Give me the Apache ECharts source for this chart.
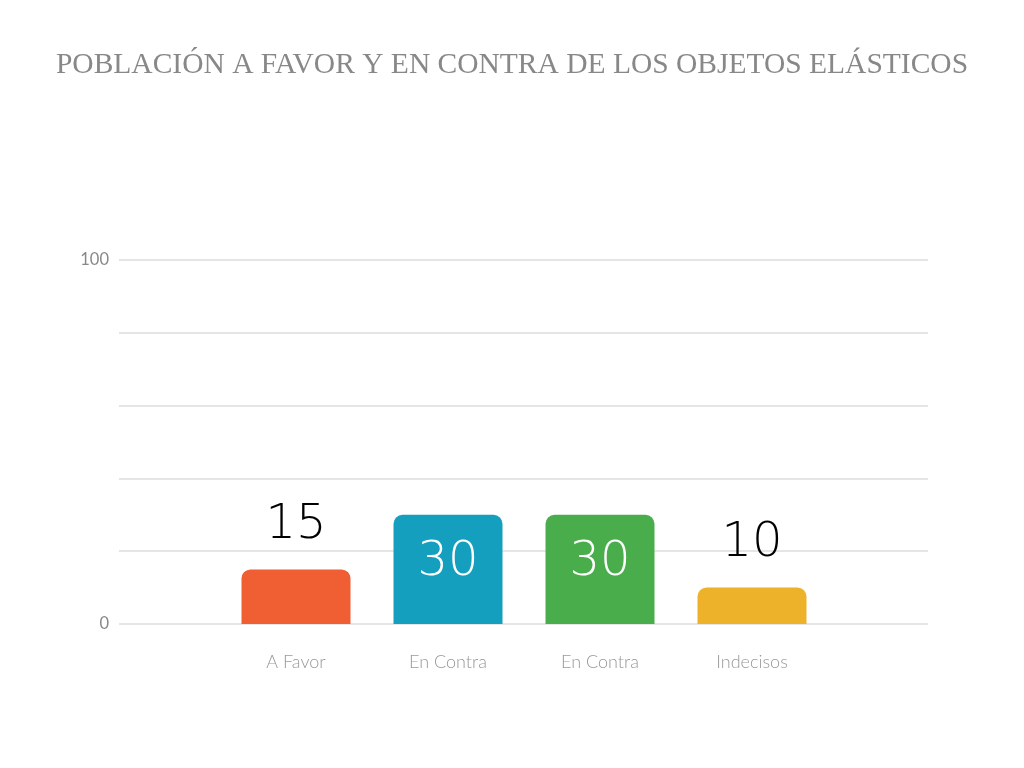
<!DOCTYPE html>
<html lang="es">
  <head>
    <meta charset="UTF-8" />
    <title>Población a favor y en contra</title>
    <script src="https://cdn.jsdelivr.net/npm/echarts@6/dist/echarts.min.js"></script>
    <style>
      html, body { margin: 0; padding: 0; background: #fff; }
      #main { width: 1024px; height: 768px; }
    </style>
  </head>
  <body>
    <div id="main"></div>
    <script>
      // datos
      const categorias = ['A Favor', 'En Contra', 'En Contra', 'Indecisos'];
      const valores = [15, 30, 30, 10];
      const colores = ['#F05F33', '#149FBE', '#4AAD4B', '#EDB12A'];
      const etiquetasEje = ['0', '100'];

      const chart = echarts.init(document.getElementById('main'));

      // barras altas llevan la etiqueta dentro, las bajas encima
      const datosBarras = valores.map((v, i) => {
        const dentro = v >= 20;
        return {
          value: v,
          itemStyle: { color: colores[i] },
          label: {
            position: dentro ? 'insideTop' : 'top',
            color: dentro ? '#fff' : '#000',
            distance: dentro ? 24 : 20
          }
        };
      });

      const option = {
        animation: false,
        title: {
          text: 'POBLACIÓN A FAVOR Y EN CONTRA DE LOS OBJETOS ELÁSTICOS',
          left: 'center',
          top: 45,
          textStyle: {
            fontFamily: 'Liberation Serif',
            fontWeight: 'normal',
            fontSize: 29.5,
            color: '#888'
          }
        },
        grid: [
          { left: 119, right: 96, top: 260, bottom: 144 },
          { left: 220, right: 196, top: 260, bottom: 144 }
        ],
        xAxis: [
          { type: 'category', gridIndex: 0, data: categorias, show: false },
          {
            type: 'category',
            gridIndex: 1,
            data: categorias,
            axisLine: { show: false },
            axisTick: { show: false },
            axisLabel: {
              margin: 29,
              fontFamily: 'Lato',
              fontWeight: 300,
              fontSize: 18,
              color: '#999'
            }
          }
        ],
        yAxis: [
          {
            type: 'value',
            gridIndex: 0,
            min: 0,
            max: 100,
            interval: 20,
            axisLine: { show: false },
            axisTick: { show: false },
            splitLine: { lineStyle: { color: '#dcdcdc', width: 1.5 } },
            axisLabel: {
              margin: 10,
              fontFamily: 'Lato',
              fontSize: 16.5,
              color: '#888',
              formatter: (v) => (etiquetasEje.includes(String(v)) ? String(v) : '')
            }
          },
          { type: 'value', gridIndex: 1, min: 0, max: 100, show: false }
        ],
        series: [
          {
            type: 'bar',
            xAxisIndex: 1,
            yAxisIndex: 1,
            barWidth: 109,
            data: datosBarras,
            itemStyle: { borderRadius: [9, 9, 0, 0] },
            label: {
              show: true,
              fontFamily: 'DejaVu Sans',
              fontSize: 48,
              fontWeight: 200
            }
          }
        ]
      };

      chart.setOption(option);
    </script>
  </body>
</html>
